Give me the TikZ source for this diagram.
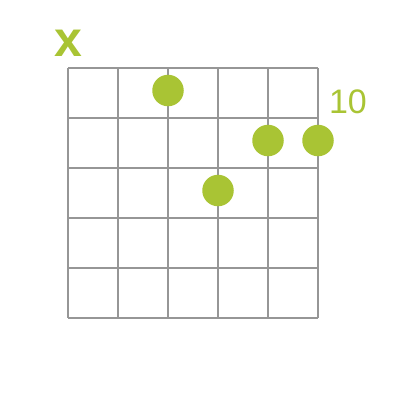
\documentclass[tikz,border=0pt]{standalone}
\usepackage{fontspec}
\setmainfont{Liberation Sans}
\definecolor{chordgreen}{RGB}{169,196,52}
\definecolor{fretgray}{RGB}{150,150,150}
\newcommand{\fretgrid}[2]{%
  \foreach \s in {0,...,#1}
    \draw[fretgray,line width=1.3pt] (68+50*\s,68)--(68+50*\s,68+50*#2);%
  \foreach \f in {0,...,#2}
    \draw[fretgray,line width=1.3pt] (68,68+50*\f)--(68+50*#1,68+50*\f);%
}

\begin{document}
\begin{tikzpicture}[x=1pt,y=-1pt,
    finger/.style={circle,fill=chordgreen,minimum size=31.5pt,inner sep=0pt}]
  \useasboundingbox (0,0) rectangle (402,418);
  \fretgrid{5}{5}
  \foreach \s/\f [count=\i] in {3/1,5/2,6/2,4/3}
    \node[finger] (dot\i) at (68+50*\s-50,68+50*\f-27.5) {};
  \node[anchor=base,text=chordgreen,inner sep=0pt] (mute) at (68,56)
    {\fontsize{50}{50}\selectfont\bfseries x};
  \node[anchor=base,text=chordgreen,inner sep=0pt] (fret) at (348,113)
    {\fontsize{34}{34}\selectfont 10};
\end{tikzpicture}
\end{document}
